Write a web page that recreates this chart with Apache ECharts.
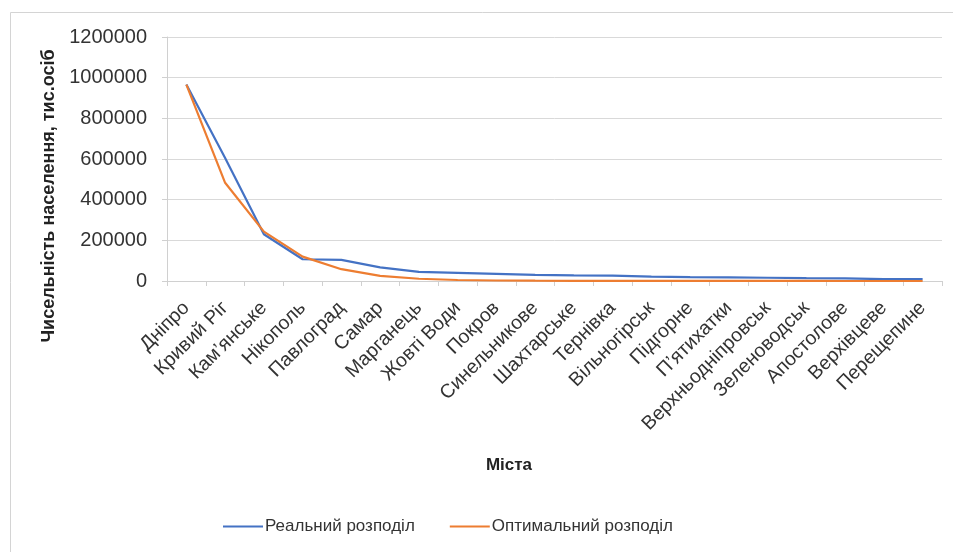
<!DOCTYPE html>
<html>
<head>
<meta charset="utf-8">
<script src="https://cdn.jsdelivr.net/npm/echarts@6/dist/echarts.min.js"></script>
<style>
html,body{margin:0;padding:0;background:#fff;}
#chart{width:953px;height:552px;}
</style>
</head>
<body>
<div id="chart"></div>
<script>
var categories = ["Дніпро","Кривий Ріг","Кам’янське","Нікополь","Павлоград","Самар","Марганець","Жовті Води","Покров","Синельникове","Шахтарське","Тернівка","Вільногірськ","Підгорне","П’ятихатки","Верхньодніпровськ","Зеленоводськ","Апостолове","Верхівцеве","Перещепине"];
var realValues = [966000, 605000, 230000, 107000, 104000, 67000, 45000, 40000, 35000, 30000, 27500, 26000, 22000, 19000, 18000, 16000, 14000, 13000, 9500, 9000];
var optimalValues = [966000, 483000, 243000, 120000, 58000, 25000, 11000, 5000, 2500, 1500, 1000, 700, 500, 400, 300, 200, 150, 100, 80, 60];
var seriesNames = ["Реальний розподіл", "Оптимальний розподіл"];
var yAxisTitle = "Чисельність населення, тис.осіб";
var xAxisTitle = "Міста";

var FONT = "Liberation Sans";
var chart = echarts.init(document.getElementById('chart'), null, {renderer: 'canvas'});
chart.setOption({
  animation: false,
  backgroundColor: '#ffffff',
  textStyle: {fontFamily: FONT},
  grid: {left: 167, right: 11, top: 37, bottom: 271, containLabel: false},
  legend: {
    left: 218, top: 513,
    icon: 'rect',
    itemWidth: 40, itemHeight: 2, itemGap: 35,
    textStyle: {fontFamily: FONT, fontSize: 17, color: '#333', padding: [0, 0, 0, -3]},
    data: seriesNames
  },
  xAxis: {
    type: 'category',
    data: categories,
    boundaryGap: true,
    axisLine: {show: true, lineStyle: {color: '#d0d0d0', width: 1}},
    axisTick: {show: true, length: 5, alignWithLabel: false, lineStyle: {color: '#d0d0d0'}},
    axisLabel: {interval: 0, rotate: 45, fontSize: 19.5, color: '#333', fontFamily: FONT, margin: 24}
  },
  yAxis: {
    type: 'value',
    min: 0, max: 1200000, interval: 200000,
    axisLine: {show: true, lineStyle: {color: '#d0d0d0', width: 1}},
    axisTick: {show: true, length: 5, lineStyle: {color: '#d0d0d0'}},
    splitLine: {show: true, lineStyle: {color: '#d9d9d9', width: 1}},
    axisLabel: {fontSize: 20, color: '#333', fontFamily: FONT, margin: 20,
      formatter: function (v) { return String(v); }}
  },
  graphic: [
    {type: 'rect', silent: true, shape: {x: 10.5, y: 12.5, width: 1000, height: 1000},
     style: {fill: 'none', stroke: '#d4d4d4', lineWidth: 1}},
    {type: 'text', silent: true, x: 49, y: 196, rotation: Math.PI / 2,
     style: {text: yAxisTitle, font: 'bold 18px "' + FONT + '"', fill: '#222', textAlign: 'center', textVerticalAlign: 'middle'}},
    {type: 'text', silent: true, x: 509, y: 465,
     style: {text: xAxisTitle, font: 'bold 17px "' + FONT + '"', fill: '#222', textAlign: 'center', textVerticalAlign: 'middle'}}
  ],
  series: [
    {name: seriesNames[0], type: 'line', data: realValues, showSymbol: false, symbol: 'none',
     lineStyle: {color: '#4472C4', width: 2.2}, itemStyle: {color: '#4472C4'}},
    {name: seriesNames[1], type: 'line', data: optimalValues, showSymbol: false, symbol: 'none',
     lineStyle: {color: '#ED7D31', width: 2.2}, itemStyle: {color: '#ED7D31'}}
  ]
});
</script>
</body>
</html>
